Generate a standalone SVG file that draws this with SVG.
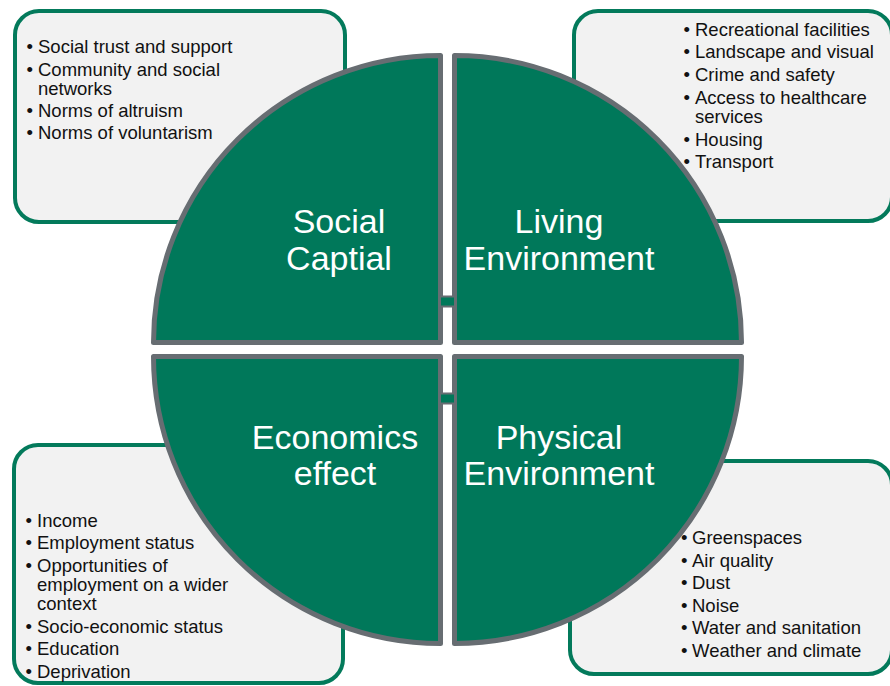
<svg xmlns="http://www.w3.org/2000/svg" width="890" height="686" viewBox="0 0 890 686">
<style>
.box{fill:#F2F2F2;stroke:#037A5B;stroke-width:4}
.quad{fill:#00785A;stroke:#676D72;stroke-width:5;stroke-linejoin:round}
.item{font-family:"Liberation Sans",Arial,sans-serif;font-size:18.5px;fill:#111111}
.big{font-family:"Liberation Sans",Arial,sans-serif;font-size:34px;fill:#FFFFFF;text-anchor:middle}
.bridge{fill:#00785A;stroke:#676D72;stroke-width:2}
</style>
<rect width="890" height="686" fill="#FFFFFF"/>
<g id="box-social">
<rect class="box" x="15" y="11" width="330" height="211" rx="24"/>
<text class="item"><tspan x="26.5" y="52.5">•</tspan><tspan x="38" y="52.5">Social trust and support</tspan><tspan x="26.5" y="75.5">•</tspan><tspan x="38" y="75.5">Community and social</tspan><tspan x="38" y="94.5">networks</tspan><tspan x="26.5" y="117">•</tspan><tspan x="38" y="117">Norms of altruism</tspan><tspan x="26.5" y="139">•</tspan><tspan x="38" y="139">Norms of voluntarism</tspan></text>
</g>
<g id="box-living">
<rect class="box" x="574" y="11" width="318" height="210" rx="24"/>
<text class="item"><tspan x="683.5" y="35.5">•</tspan><tspan x="695" y="35.5">Recreational facilities</tspan><tspan x="683.5" y="57.5">•</tspan><tspan x="695" y="57.5">Landscape and visual</tspan><tspan x="683.5" y="80.5">•</tspan><tspan x="695" y="80.5">Crime and safety</tspan><tspan x="683.5" y="103.5">•</tspan><tspan x="695" y="103.5">Access to healthcare</tspan><tspan x="695" y="122.5">services</tspan><tspan x="683.5" y="145.5">•</tspan><tspan x="695" y="145.5">Housing</tspan><tspan x="683.5" y="167.5">•</tspan><tspan x="695" y="167.5">Transport</tspan></text>
</g>
<g id="box-economics">
<rect class="box" x="14" y="445" width="329" height="238" rx="24"/>
<text class="item"><tspan x="25.5" y="526.5">•</tspan><tspan x="37" y="526.5">Income</tspan><tspan x="25.5" y="548.5">•</tspan><tspan x="37" y="548.5">Employment status</tspan><tspan x="25.5" y="571.5">•</tspan><tspan x="37" y="571.5">Opportunities of</tspan><tspan x="37" y="590.5">employment on a wider</tspan><tspan x="37" y="609.5">context</tspan><tspan x="25.5" y="632.5">•</tspan><tspan x="37" y="632.5">Socio-economic status</tspan><tspan x="25.5" y="654.5">•</tspan><tspan x="37" y="654.5">Education</tspan><tspan x="25.5" y="677.5">•</tspan><tspan x="37" y="677.5">Deprivation</tspan></text>
</g>
<g id="box-physical">
<rect class="box" x="570" y="461" width="322" height="213" rx="24"/>
<text class="item"><tspan x="681" y="543.5">•</tspan><tspan x="692" y="543.5">Greenspaces</tspan><tspan x="681" y="566.5">•</tspan><tspan x="692" y="566.5">Air quality</tspan><tspan x="681" y="588.5">•</tspan><tspan x="692" y="588.5">Dust</tspan><tspan x="681" y="611.5">•</tspan><tspan x="692" y="611.5">Noise</tspan><tspan x="681" y="633.5">•</tspan><tspan x="692" y="633.5">Water and sanitation</tspan><tspan x="681" y="656.5">•</tspan><tspan x="692" y="656.5">Weather and climate</tspan></text>
</g>
<g id="quad-social">
<path class="quad" d="M440.5,342.5 L440.5,55.5 A287,287 0 0 0 153.5,342.5 Z"/>
<text class="big"><tspan x="339" y="233">Social</tspan><tspan x="339" y="270">Captial</tspan></text>
</g>
<g id="quad-living">
<path class="quad" d="M454.5,342.5 L741.5,342.5 A287,287 0 0 0 454.5,55.5 Z"/>
<text class="big"><tspan x="559" y="233">Living</tspan><tspan x="559" y="270">Environment</tspan></text>
</g>
<g id="quad-economics">
<path class="quad" d="M440.5,356.5 L153.5,356.5 A287,287 0 0 0 440.5,643.5 Z"/>
<text class="big"><tspan x="335" y="448.5">Economics</tspan><tspan x="335" y="485">effect</tspan></text>
</g>
<g id="quad-physical">
<path class="quad" d="M454.5,356.5 L454.5,643.5 A287,287 0 0 0 741.5,356.5 Z"/>
<text class="big"><tspan x="559" y="448.5">Physical</tspan><tspan x="559" y="485">Environment</tspan></text>
</g>
<g id="connectors">
<rect class="bridge" x="440" y="296.5" width="15" height="10"/>
<rect class="bridge" x="440" y="393.5" width="15" height="10"/>
</g>
</svg>
